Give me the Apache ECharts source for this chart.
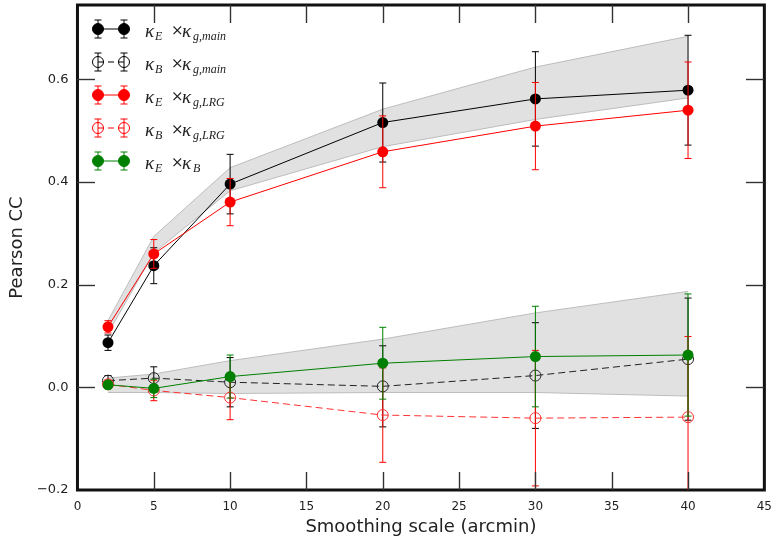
<!DOCTYPE html>
<html>
<head>
<meta charset="utf-8">
<script src="https://cdn.jsdelivr.net/npm/echarts@6/dist/echarts.min.js"></script>
<style>
html,body{margin:0;padding:0;background:#fff;}
#chart{width:775px;height:542px;}
</style>
</head>
<body>
<div id="chart"></div>
<script>
// ---- data ----
const smoothingScales = [2, 5, 10, 20, 30, 40];

const kEgMain    = [0.087, 0.237, 0.396, 0.516, 0.562, 0.579];
const kEgMainErr = [0.015, 0.035, 0.058, 0.077, 0.092, 0.107];

const kBgMain    = [0.013, 0.018, 0.010, 0.002, 0.023, 0.055];
const kBgMainErr = [0.010, 0.022, 0.048, 0.079, 0.103, 0.119];

const kEgLrg     = [0.118, 0.260, 0.361, 0.459, 0.509, 0.540];
const kEgLrgErr  = [0.012, 0.028, 0.046, 0.070, 0.085, 0.094];

const kBgLrg     = [0.006, -0.006, -0.020, -0.054, -0.060, -0.058];
const kBgLrgErr  = [0.008, 0.020, 0.043, 0.092, 0.132, 0.157];

const kEkB       = [0.005, -0.002, 0.021, 0.047, 0.060, 0.063];
const kEkBErr    = [0.006, 0.018, 0.042, 0.070, 0.098, 0.119];

// grey bands
const signalBandHi = [0.130, 0.294, 0.428, 0.542, 0.624, 0.684];
const signalBandLo = [0.105, 0.262, 0.383, 0.469, 0.522, 0.564];
const nullBandHi   = [0.018, 0.026, 0.052, 0.094, 0.145, 0.187];
const nullBandLo   = [-0.010, -0.010, -0.012, -0.010, -0.010, -0.017];

const xTicks = [0, 5, 10, 15, 20, 25, 30, 35, 40, 45];
const yTicks = [-0.2, 0.0, 0.2, 0.4, 0.6];
const yMax = 0.745;

// ---- chart ----
const chart = echarts.init(document.getElementById('chart'), null, {renderer: 'canvas'});

function pairs(xs, ys) { return xs.map((x, i) => [x, ys[i]]); }
function errData(xs, ys, es) { return xs.map((x, i) => [x, ys[i] - es[i], ys[i] + es[i]]); }

function errRender(color) {
  return function (params, api) {
    const x = api.value(0), lo = api.value(1), hi = api.value(2);
    const pHi = api.coord([x, hi]);
    const pLo = api.coord([x, lo]);
    const cs = params.coordSys;
    const top = cs.y, bot = cs.y + cs.height;
    const y1 = Math.max(pHi[1], top), y2 = Math.min(pLo[1], bot);
    const hw = 3.5;
    const children = [{type: 'line', shape: {x1: pHi[0], y1: y1, x2: pHi[0], y2: y2},
      style: {stroke: color, lineWidth: 1}}];
    if (pHi[1] >= top) children.push({type: 'line', shape: {x1: pHi[0] - hw, y1: pHi[1], x2: pHi[0] + hw, y2: pHi[1]}, style: {stroke: color, lineWidth: 1}});
    if (pLo[1] <= bot) children.push({type: 'line', shape: {x1: pLo[0] - hw, y1: pLo[1], x2: pLo[0] + hw, y2: pLo[1]}, style: {stroke: color, lineWidth: 1}});
    return {type: 'group', children: children};
  };
}

function bandRender(xs, hi, lo) {
  return function (params, api) {
    if (params.dataIndex !== 0) return null;
    const upper = xs.map((x, i) => api.coord([x, hi[i]]));
    const lower = xs.map((x, i) => api.coord([x, lo[i]]));
    const poly = upper.concat(lower.slice().reverse());
    return {type: 'group', children: [
      {type: 'polygon', shape: {points: poly}, style: {fill: '#e1e1e1', stroke: null}},
      {type: 'polyline', shape: {points: upper}, style: {stroke: '#bdbdbd', lineWidth: 1, fill: null}},
      {type: 'polyline', shape: {points: lower}, style: {stroke: '#bdbdbd', lineWidth: 1, fill: null}}
    ]};
  };
}

function bandSeries(hi, lo) {
  return {type: 'custom', renderItem: bandRender(smoothingScales, hi, lo),
    data: pairs(smoothingScales, hi), encode: {x: 0, y: 1}, silent: true, z: 1};
}
function errSeries(ys, es, color, z) {
  return {type: 'custom', renderItem: errRender(color), data: errData(smoothingScales, ys, es),
    encode: {x: 0, y: [1, 2]}, silent: true, z: z};
}
function lineSeries(ys, color, open, z) {
  return {type: 'line', data: pairs(smoothingScales, ys), symbol: 'circle', symbolSize: 11,
    showAllSymbol: true, silent: true, z: z,
    lineStyle: {color: color, width: 1, type: open ? [7, 4] : 'solid'},
    itemStyle: open ? {color: 'rgba(0,0,0,0)', borderColor: color, borderWidth: 1} : {color: color, borderColor: color, borderWidth: 0}
  };
}

const isTick = (v, step) => Math.abs(v / step - Math.round(v / step)) < 1e-6;

// legend (graphic)
const legendRows = [
  {color: '#000', open: false, sub1: 'E', sub2: 'g,main'},
  {color: '#000', open: true,  sub1: 'B', sub2: 'g,main'},
  {color: '#f00', open: false, sub1: 'E', sub2: 'g,LRG'},
  {color: '#f00', open: true,  sub1: 'B', sub2: 'g,LRG'},
  {color: '#008000', open: false, sub1: 'E', sub2: 'B'}
];
const legendGraphics = [];
legendRows.forEach((r, i) => {
  const y = 29 + 33 * i;
  const xs2 = [98, 124];
  legendGraphics.push({type: 'line', shape: {x1: xs2[0], y1: y, x2: xs2[1], y2: y},
    style: {stroke: r.color, lineWidth: 1, lineDash: r.open ? [6, 4] : null}, z: 100});
  xs2.forEach(cx => {
    legendGraphics.push({type: 'line', shape: {x1: cx, y1: y - 9, x2: cx, y2: y + 9}, style: {stroke: r.color, lineWidth: 1}, z: 100});
    legendGraphics.push({type: 'line', shape: {x1: cx - 3.5, y1: y - 9, x2: cx + 3.5, y2: y - 9}, style: {stroke: r.color, lineWidth: 1}, z: 100});
    legendGraphics.push({type: 'line', shape: {x1: cx - 3.5, y1: y + 9, x2: cx + 3.5, y2: y + 9}, style: {stroke: r.color, lineWidth: 1}, z: 100});
    legendGraphics.push({type: 'circle', shape: {cx: cx, cy: y, r: 5.5},
      style: r.open ? {fill: 'rgba(0,0,0,0)', stroke: r.color, lineWidth: 1} : {fill: r.color, stroke: r.color}, z: 101});
  });
  const mathFont = {fontFamily: 'Liberation Serif', fontStyle: 'italic', fill: '#222'};
  legendGraphics.push({type: 'text', x: 145, y: y + 3, z: 100,
    style: Object.assign({text: 'κ', fontSize: 19, verticalAlign: 'middle', align: 'left'}, mathFont)});
  legendGraphics.push({type: 'text', x: 155, y: y + 8, z: 100,
    style: Object.assign({text: r.sub1, fontSize: 12, verticalAlign: 'middle', align: 'left'}, mathFont)});
  legendGraphics.push({type: 'text', x: 171, y: y + 2, z: 100,
    style: {text: '×', fontSize: 15, fontFamily: 'DejaVu Serif', fill: '#222', verticalAlign: 'middle', align: 'left'}});
  legendGraphics.push({type: 'text', x: 182, y: y + 3, z: 100,
    style: Object.assign({text: 'κ', fontSize: 19, verticalAlign: 'middle', align: 'left'}, mathFont)});
  legendGraphics.push({type: 'text', x: 193, y: y + 8, z: 100,
    style: Object.assign({text: r.sub2, fontSize: 12, verticalAlign: 'middle', align: 'left'}, mathFont)});
});

const option = {
  animation: false,
  backgroundColor: '#fff',
  grid: {left: 77, right: 5, top: 5, bottom: 52, show: true, borderColor: '#111', borderWidth: 3, backgroundColor: 'transparent'},
  xAxis: {type: 'value', position: 'bottom', min: xTicks[0], max: xTicks[xTicks.length - 1], interval: 5,
     name: 'Smoothing scale (arcmin)', nameLocation: 'middle', nameGap: 27,
     nameTextStyle: {fontFamily: 'DejaVu Sans', fontSize: 18, color: '#222'},
     axisLine: {show: false, onZero: false}, axisTick: {show: false}, splitLine: {show: false},
     axisLabel: {fontFamily: 'DejaVu Sans', fontSize: 12, color: '#222', margin: 11}},
  yAxis: {type: 'value', position: 'left', min: yTicks[0], max: yMax, interval: 0.2,
     name: 'Pearson CC', nameLocation: 'middle', nameGap: 50,
     nameTextStyle: {fontFamily: 'DejaVu Sans', fontSize: 18, color: '#222'},
     axisLine: {show: false, onZero: false}, axisTick: {show: false}, splitLine: {show: false},
     axisLabel: {fontFamily: 'DejaVu Sans', fontSize: 13, color: '#222', margin: 9,
       formatter: v => isTick(v, 0.2) ? (v < -1e-9 ? '\u2212' + Math.abs(v).toFixed(1) : Math.abs(v).toFixed(1)) : ''}},
  series: [
    bandSeries(signalBandHi, signalBandLo),
    bandSeries(nullBandHi, nullBandLo),
    errSeries(kEgMain, kEgMainErr, '#000', 10),
    lineSeries(kEgMain, '#000', false, 11),
    errSeries(kBgMain, kBgMainErr, '#000', 12),
    lineSeries(kBgMain, '#222', true, 13),
    errSeries(kEgLrg, kEgLrgErr, '#f00', 14),
    lineSeries(kEgLrg, '#f00', false, 15),
    errSeries(kBgLrg, kBgLrgErr, '#f00', 16),
    lineSeries(kBgLrg, '#ff3333', true, 17),
    errSeries(kEkB, kEkBErr, '#008000', 18),
    lineSeries(kEkB, '#008000', false, 19)
  ]
};
chart.setOption(option);

// inward tick marks on all four sides, positioned through the axis scales
const L = 18;
const tickStyle = () => ({stroke: '#333', lineWidth: 1.4, fill: null});
const pTL = chart.convertToPixel({gridIndex: 0}, [xTicks[0], yMax]);
const pBR = chart.convertToPixel({gridIndex: 0}, [xTicks[xTicks.length - 1], yTicks[0]]);
const gLeft = Math.round(pTL[0]), gTop = Math.round(pTL[1]), gRight = Math.round(pBR[0]), gBot = Math.round(pBR[1]);
const tickGraphics = [];
xTicks.forEach(t => {
  const px = Math.round(chart.convertToPixel({xAxisIndex: 0}, t)) + 0.5;
  if (px <= gLeft + 1 || px >= gRight - 1) return;
  tickGraphics.push({type: 'polyline', shape: {points: [[px, gBot - L], [px, gBot]]}, style: tickStyle(), z: 90});
  tickGraphics.push({type: 'polyline', shape: {points: [[px, gTop], [px, gTop + L]]}, style: tickStyle(), z: 90});
});
yTicks.forEach(t => {
  const py = Math.round(chart.convertToPixel({yAxisIndex: 0}, t)) + 0.5;
  if (py <= gTop + 1 || py >= gBot - 1) return;
  tickGraphics.push({type: 'polyline', shape: {points: [[gLeft, py], [gLeft + L, py]]}, style: tickStyle(), z: 90});
  tickGraphics.push({type: 'polyline', shape: {points: [[gRight - L, py], [gRight, py]]}, style: tickStyle(), z: 90});
});
chart.setOption({graphic: legendGraphics.concat(tickGraphics)});
</script>
</body>
</html>
